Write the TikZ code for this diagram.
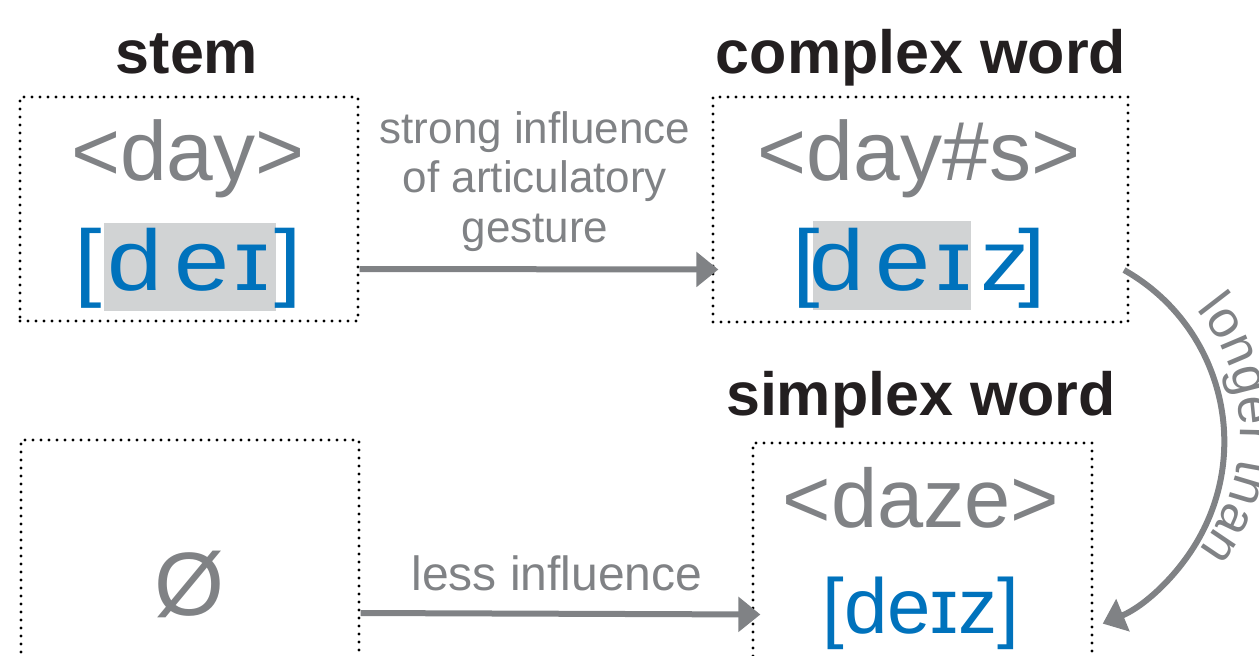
\documentclass[tikz,border=0pt]{standalone}
\usepackage{fontspec}
\setmainfont{Liberation Sans}
\usetikzlibrary{arrows.meta,decorations.text}
\definecolor{tgray}{RGB}{128,130,133}
\definecolor{tblue}{RGB}{0,114,188}
\definecolor{hgray}{RGB}{209,211,212}
\definecolor{tblack}{RGB}{35,31,32}
\newcommand\fs[1]{\fontsize{#1}{#1}\selectfont}
\newcommand\arcfont{\fs{52}}
\tikzset{
  box/.style={draw=black, line width=3.2pt, dash pattern=on 0pt off 8pt, line cap=round, inner sep=0pt},
  title/.style={anchor=base, text=tblack, inner sep=0pt, font=\fs{61}\bfseries},
  orth/.style={anchor=base, text=tgray, inner sep=0pt, font=\fs{84}},
  ipa/.style={anchor=base, text=tblue, inner sep=0pt, font=\fs{86}},
  lab/.style={anchor=base, text=tgray, inner sep=0pt, font=\fs{44}},
  arr/.style={draw=tgray, line width=6pt, -{Triangle[length=22pt,width=34pt]}},
}
\newcommand\wide[1]{\scalebox{1.15}[1]{#1}}
\begin{document}
\begin{tikzpicture}[x=1pt,y=-1pt]
\useasboundingbox (0,0) rectangle (1259,656);
% boxes
\node[box, minimum width=338pt, minimum height=224pt] (stem) at (189,209) {};
\node[box, minimum width=415pt, minimum height=225pt] (cw) at (920.5,209.5) {};
\node[box, minimum width=338pt, minimum height=240pt] (nul) at (190,560) {};
\node[box, minimum width=339pt, minimum height=237pt] (sw) at (922.5,561.5) {};
% titles
\node[title] (tstem) at (187,73) {stem};
\node[title] (tcw) at (921,73) {complex word};
\node[title] (tsw) at (921,415) {simplex word};
% orthography
\node[orth] (ostem) at (188,180) {<day>};
\node[orth] (ocw) at (919,180) {<day\#s>};
\node[orth, font=\fs{83}] (osw) at (921,527) {<daze>};
\node[orth, font=\fs{90}] (onul) at (190,615) {Ø};
% highlights
\fill[hgray] (104,223) rectangle (276,311);
\fill[hgray] (813,221) rectangle (971,310);
% IPA stem
\node[ipa] (s1) at (88,290) {\wide{[}};
\node[ipa] (s2) at (135,290) {\wide{d}};
\node[ipa] (s3) at (202,290) {\wide{e}};
\node[ipa] (s4) at (252,290) {\wide{ɪ}};
\node[ipa] (s5) at (288,290) {\wide{]}};
% IPA complex
\node[ipa] (c1) at (806,290) {\wide{[}};
\node[ipa] (c2) at (837,290) {\wide{d}};
\node[ipa] (c3) at (903,290) {\wide{e}};
\node[ipa] (c4) at (954,290) {\wide{ɪ}};
\node[ipa] (c5) at (1005,290) {\wide{z}};
\node[ipa] (c6) at (1032,290) {\wide{]}};
% IPA simplex
\node[ipa, font=\fs{78}] (ipasw) at (921,633) {[deɪz]};
% labels
\node[lab] (l1a) at (535,143) {strong influence};
\node[lab] (l1b) at (535,192) {of articulatory};
\node[lab] (l1c) at (535,242) {gesture};
\node[lab, font=\fs{48}] (l2) at (557,590) {less influence};
% arrows
\draw[arr] ([yshift=-60pt]stem.east) -- ([yshift=-60pt,xshift=7pt]cw.west);
\draw[arr] ([yshift=-53pt]nul.east) -- ([yshift=-53pt,xshift=9pt]sw.west);
\coordinate (arcS) at (1124,270);
\draw[arr] (arcS) arc[start angle=-60.6, end angle=67.5, radius=197];
\path[decorate, decoration={text along path, text align=center,
  text={|\arcfont\color{tgray}|longer than}}]
  (1048,431) ++(-42:192) arc[start angle=-42, end angle=41, radius=192];
\end{tikzpicture}
\end{document}
